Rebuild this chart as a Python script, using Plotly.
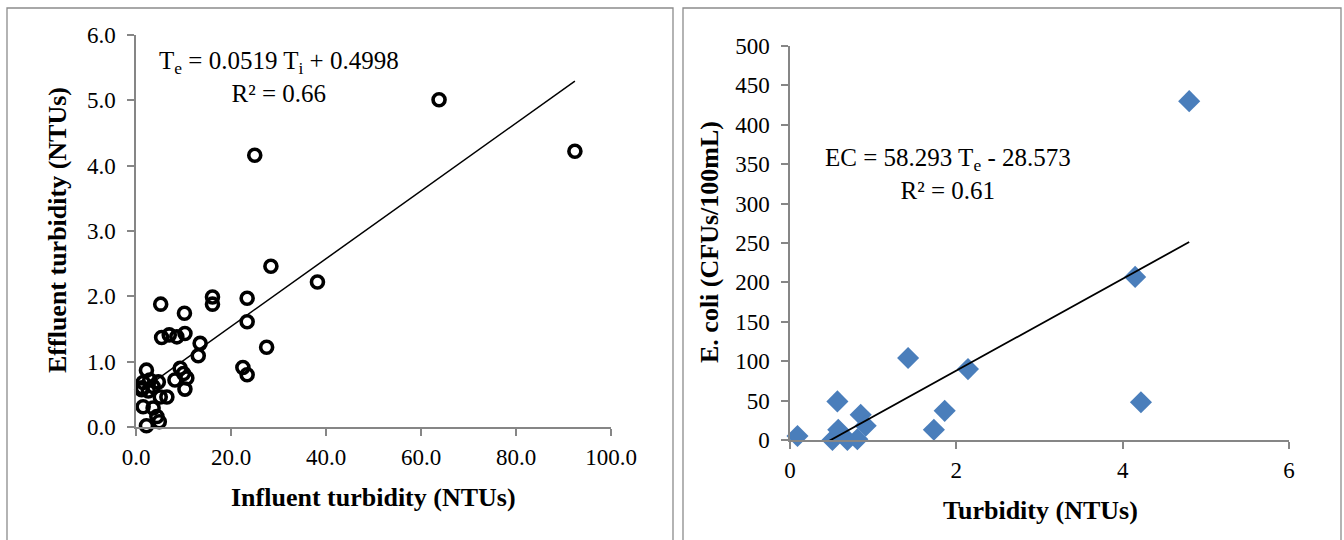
import plotly.graph_objects as go

# ---- Influent vs effluent turbidity (NTUs) ----
influent = [1.2, 1.5, 2.2, 2.9, 3.6, 4.7, 1.5, 3.6, 4.4, 4.9, 2.2, 5.1, 6.5,
            8.2, 9.3, 10.0, 10.7, 10.3, 5.4, 7.0, 8.6, 10.3, 13.5, 13.1, 5.2,
            10.2, 16.1, 16.1, 23.4, 23.4, 28.4, 38.2, 27.5, 22.5, 23.4, 25.0,
            63.8, 92.4, 2.6, 1.3]
effluent = [0.57, 0.68, 0.87, 0.72, 0.62, 0.69, 0.31, 0.29, 0.16, 0.08, 0.02,
            0.46, 0.46, 0.72, 0.90, 0.82, 0.75, 0.58, 1.37, 1.41, 1.38, 1.43,
            1.28, 1.09, 1.88, 1.74, 1.99, 1.88, 1.97, 1.61, 2.46, 2.22, 1.22,
            0.91, 0.80, 4.16, 5.01, 4.22, 0.55, 0.60]
fit1_slope, fit1_icpt = 0.0519, 0.4998

# ---- Effluent turbidity vs E. coli ----
turbidity = [0.09, 0.51, 0.57, 0.58, 0.69, 0.81, 0.85, 0.91, 1.42, 1.73,
             1.86, 2.14, 4.15, 4.22, 4.80]
ecoli = [5, 0, 49, 13, 0, 1, 32, 18, 104, 13, 37, 90, 207, 48, 430]
fit2_slope, fit2_icpt = 58.293, -28.573

left_xticks = [0, 20, 40, 60, 80, 100]
left_yticks = [0, 1, 2, 3, 4, 5, 6]
right_xticks = [0, 2, 4, 6]
right_yticks = list(range(0, 501, 50))

W, H = 1344, 540
SERIF = "Liberation Serif, Times New Roman, serif"
AXC = "#868686"


def px_x(p):
    return p / W


def px_y(p):
    return (H - p) / H


fig = go.Figure()

fig.add_trace(go.Scatter(
    x=influent, y=effluent, mode="markers", xaxis="x", yaxis="y",
    marker=dict(symbol="circle-open", size=12, color="black",
                line=dict(width=3.6, color="black")),
    cliponaxis=False, showlegend=False))
x1 = [min(influent), max(influent)]
fig.add_trace(go.Scatter(
    x=x1, y=[fit1_slope * v + fit1_icpt for v in x1], mode="lines",
    xaxis="x", yaxis="y", line=dict(color="black", width=1.5),
    showlegend=False))

fig.add_trace(go.Scatter(
    x=turbidity, y=ecoli, mode="markers", xaxis="x2", yaxis="y2",
    marker=dict(symbol="diamond", size=17, color="#4a7ebb",
                line=dict(width=0)),
    cliponaxis=False, showlegend=False))
x2 = [min(turbidity), max(turbidity)]
fig.add_trace(go.Scatter(
    x=x2, y=[fit2_slope * v + fit2_icpt for v in x2], mode="lines",
    xaxis="x2", yaxis="y2", line=dict(color="black", width=1.8),
    showlegend=False))

axis_common = dict(showline=True, linecolor=AXC, linewidth=1.5,
                   showgrid=False, zeroline=False, ticks="outside",
                   tickcolor=AXC, tickwidth=1.5, ticklen=7, automargin=False,
                   tickfont=dict(family=SERIF, size=23, color="black"))

fig.update_layout(
    width=W, height=H, margin=dict(l=0, r=0, t=0, b=0),
    paper_bgcolor="white", plot_bgcolor="white",
    xaxis=dict(axis_common, domain=[px_x(136), px_x(611)], range=[0, 100],
               tickvals=left_xticks,
               ticktext=[f"{v:.1f}" for v in left_xticks],
               anchor="y", ticklabelstandoff=2),
    yaxis=dict(axis_common, domain=[px_y(427), px_y(35)], range=[0, 6],
               tickvals=left_yticks,
               ticktext=[f"{v:.1f}" for v in left_yticks],
               anchor="x", ticklabelstandoff=7),
    xaxis2=dict(axis_common, domain=[px_x(790), px_x(1289)], range=[0, 6],
                tickvals=right_xticks, anchor="y2", ticklabelstandoff=2),
    yaxis2=dict(axis_common, domain=[px_y(440), px_y(46)], range=[0, 500],
                tickvals=right_yticks, anchor="x2", ticklabelstandoff=7),
)

# chart frames
for x0, x1p in [(7, 673), (683, 1341)]:
    fig.add_shape(type="rect", xref="paper", yref="paper",
                  x0=px_x(x0), x1=px_x(x1p), y0=-0.2, y1=px_y(8),
                  line=dict(color="#8c8c8c", width=1.3),
                  fillcolor="rgba(0,0,0,0)")

# axis titles
title_font = dict(family=SERIF, size=26, color="black")
titles = [
    ("<b>Influent turbidity (NTUs)</b>", 373, 497, 0),
    ("<b>Effluent turbidity (NTUs)</b>", 57, 230, -90),
    ("<b>Turbidity (NTUs)</b>", 1040, 510, 0),
    ("<b>E. coli (CFUs/100mL)</b>", 709, 242, -90),
]
for txt, tx, ty, ang in titles:
    fig.add_annotation(xref="paper", yref="paper", x=px_x(tx), y=px_y(ty),
                       text=txt, showarrow=False, font=title_font,
                       textangle=ang, xanchor="center", yanchor="middle")

# regression equations
eq_font = dict(family=SERIF, size=25, color="black")
fig.add_annotation(xref="paper", yref="paper", x=px_x(279), y=px_y(77),
                   text="T<sub>e</sub> = 0.0519 T<sub>i</sub> + 0.4998<br>R² = 0.66",
                   showarrow=False, font=eq_font, align="center",
                   xanchor="center", yanchor="middle")
fig.add_annotation(xref="paper", yref="paper", x=px_x(948), y=px_y(174),
                   text="EC = 58.293 T<sub>e</sub> - 28.573<br>R² = 0.61",
                   showarrow=False, font=eq_font, align="center",
                   xanchor="center", yanchor="middle")

fig.write_html("out.html")
